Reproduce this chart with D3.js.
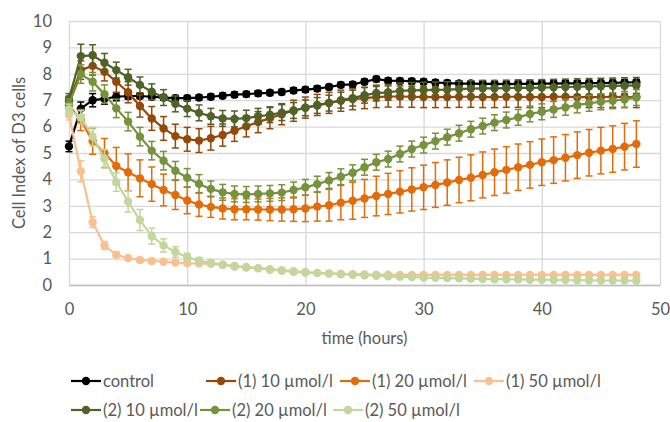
<!DOCTYPE html>
<html>
<head>
<meta charset="utf-8">
<script src="https://cdn.jsdelivr.net/npm/d3@7"></script>
<style>
  html, body { margin: 0; padding: 0; background: #ffffff; }
  svg { display: block; }
  text { font-family: Lato, "Open Sans", "Liberation Sans", sans-serif; fill: #595959; }
</style>
</head>
<body>
<svg id="chart" width="670" height="422"></svg>
<script>
// Time points (hours)
const hours = [0,1,2,3,4,5,6,7,8,9,10,11,12,13,14,15,16,17,18,19,20,21,22,23,24,
               25,26,27,28,29,30,31,32,33,34,35,36,37,38,39,40,41,42,43,44,45,46,47,48];

const xTicks = [0, 10, 20, 30, 40, 50];
const yTicks = [0, 1, 2, 3, 4, 5, 6, 7, 8, 9, 10];

const seriesNames = ["control", "(1) 10 µmol/l", "(1) 20 µmol/l", "(1) 50 µmol/l",
                     "(2) 10 µmol/l", "(2) 20 µmol/l", "(2) 50 µmol/l"];
const seriesColors = ["#000000", "#974806", "#e36c09", "#fac090",
                      "#4f6228", "#76923c", "#c3d69b"];

// Cell index means
const control = [5.25,6.68,7.0,7.05,7.13,7.16,7.16,7.13,7.1,7.08,7.08,7.1,7.13,7.17,7.21,7.23,7.26,7.28,7.31,7.37,7.4,7.44,7.5,7.58,7.6,
                 7.7,7.8,7.74,7.73,7.72,7.7,7.67,7.65,7.63,7.63,7.62,7.62,7.61,7.62,7.62,7.63,7.63,7.64,7.64,7.65,7.65,7.66,7.67,7.68];
const c1_10 = [6.95,8.14,8.3,8.08,7.7,7.3,6.78,6.31,5.93,5.64,5.52,5.47,5.56,5.68,5.84,6.01,6.17,6.32,6.47,6.6,6.72,6.82,6.9,6.98,7.04,
               7.08,7.12,7.14,7.14,7.13,7.12,7.12,7.12,7.13,7.13,7.12,7.12,7.13,7.13,7.12,7.12,7.13,7.13,7.12,7.12,7.12,7.13,7.12,7.12];
const c1_20 = [6.8,6.25,5.45,5.0,4.51,4.27,4.04,3.82,3.6,3.41,3.2,3.05,2.96,2.9,2.87,2.87,2.86,2.86,2.86,2.87,2.9,2.97,3.02,3.12,3.19,
               3.28,3.37,3.45,3.53,3.62,3.7,3.79,3.88,3.98,4.06,4.17,4.27,4.36,4.46,4.55,4.65,4.73,4.82,4.92,5.01,5.09,5.15,5.24,5.34];
const c1_50 = [6.45,4.31,2.38,1.5,1.14,1.02,0.95,0.91,0.88,0.85,0.83,0.82,0.8,0.77,0.72,0.68,0.64,0.6,0.56,0.52,0.49,0.46,0.44,0.42,0.41,
               0.4,0.39,0.39,0.38,0.38,0.38,0.38,0.38,0.38,0.38,0.38,0.38,0.38,0.38,0.38,0.38,0.38,0.38,0.38,0.38,0.38,0.38,0.38,0.38];
const c2_10 = [7.05,8.67,8.7,8.42,8.14,7.87,7.58,7.32,7.1,6.86,6.68,6.52,6.39,6.31,6.29,6.32,6.39,6.45,6.53,6.61,6.71,6.8,6.89,7.0,7.08,
               7.19,7.27,7.3,7.35,7.37,7.38,7.39,7.4,7.42,7.44,7.45,7.45,7.46,7.47,7.47,7.48,7.49,7.5,7.51,7.52,7.53,7.54,7.55,7.56];
const c2_20 = [6.85,7.99,7.7,7.23,6.69,6.19,5.62,5.09,4.71,4.33,4.06,3.83,3.64,3.51,3.45,3.43,3.45,3.47,3.5,3.6,3.7,3.82,3.96,4.1,4.25,
               4.46,4.65,4.77,4.96,5.15,5.3,5.45,5.6,5.75,5.9,6.02,6.15,6.25,6.35,6.48,6.56,6.65,6.73,6.82,6.88,6.94,6.98,7.03,7.1];
const c2_50 = [6.65,6.35,5.62,4.78,3.9,3.16,2.46,1.85,1.5,1.25,1.05,0.92,0.84,0.77,0.7,0.66,0.63,0.58,0.54,0.5,0.47,0.45,0.43,0.41,0.39,
               0.37,0.35,0.33,0.31,0.3,0.28,0.27,0.26,0.25,0.24,0.23,0.22,0.22,0.21,0.2,0.2,0.19,0.19,0.18,0.18,0.17,0.17,0.17,0.16];

// Standard deviations
const controlSd = [0.2,0.25,0.25,0.2,0.15,0.12,0.1,0.1,0.1,0.1,0.1,0.1,0.1,0.1,0.1,0.1,0.1,0.1,0.1,0.1,0.1,0.1,0.1,0.1,0.1,
                   0.1,0.1,0.1,0.1,0.1,0.1,0.1,0.1,0.1,0.1,0.1,0.1,0.1,0.1,0.1,0.1,0.1,0.1,0.1,0.1,0.1,0.1,0.1,0.1];
const c1_10Sd = [0.2,0.35,0.35,0.35,0.4,0.4,0.42,0.45,0.45,0.45,0.45,0.45,0.45,0.42,0.4,0.4,0.4,0.4,0.4,0.4,0.4,0.4,0.4,0.4,0.4,
                 0.4,0.4,0.4,0.4,0.4,0.4,0.4,0.4,0.4,0.4,0.4,0.4,0.4,0.4,0.4,0.4,0.4,0.4,0.4,0.4,0.4,0.4,0.4,0.4];
const c1_20Sd = [0.3,0.4,0.5,0.55,0.7,0.7,0.7,0.65,0.6,0.55,0.5,0.45,0.4,0.4,0.4,0.4,0.4,0.42,0.44,0.46,0.5,0.55,0.6,0.65,0.7,
                 0.72,0.75,0.78,0.8,0.82,0.84,0.85,0.86,0.86,0.87,0.87,0.88,0.88,0.88,0.88,0.88,0.88,0.88,0.88,0.88,0.88,0.88,0.88,0.88];
const c1_50Sd = [0.2,0.4,0.2,0.15,0.1,0.08,0.08,0.08,0.06,0.06,0.06,0.05,0.05,0.05,0.05,0.05,0.05,0.05,0.05,0.05,0.05,0.05,0.05,0.05,0.05,
                 0.05,0.05,0.05,0.05,0.05,0.05,0.05,0.05,0.05,0.05,0.05,0.05,0.05,0.05,0.05,0.05,0.05,0.05,0.05,0.05,0.05,0.05,0.05,0.05];
const c2_10Sd = [0.2,0.45,0.4,0.35,0.3,0.3,0.3,0.3,0.3,0.3,0.3,0.3,0.3,0.3,0.3,0.3,0.3,0.3,0.3,0.3,0.3,0.3,0.3,0.3,0.3,
                 0.3,0.3,0.3,0.3,0.3,0.3,0.3,0.3,0.3,0.3,0.3,0.3,0.3,0.3,0.3,0.3,0.3,0.3,0.3,0.3,0.3,0.3,0.3,0.3];
const c2_20Sd = [0.2,0.35,0.35,0.35,0.35,0.35,0.35,0.35,0.35,0.35,0.35,0.35,0.3,0.3,0.3,0.3,0.3,0.3,0.3,0.3,0.3,0.3,0.3,0.3,0.3,
                 0.3,0.3,0.3,0.3,0.3,0.3,0.3,0.3,0.3,0.3,0.3,0.3,0.3,0.3,0.3,0.3,0.3,0.3,0.3,0.3,0.3,0.3,0.3,0.3];
const c2_50Sd = [0.2,0.25,0.35,0.35,0.35,0.4,0.4,0.3,0.25,0.2,0.15,0.12,0.1,0.08,0.08,0.06,0.06,0.06,0.05,0.05,0.05,0.05,0.05,0.05,0.05,
                 0.05,0.05,0.05,0.05,0.05,0.05,0.05,0.05,0.05,0.05,0.05,0.05,0.05,0.05,0.05,0.05,0.05,0.05,0.05,0.05,0.05,0.05,0.05,0.05];

const seriesValues = [control, c1_10, c1_20, c1_50, c2_10, c2_20, c2_50];
const seriesSd = [controlSd, c1_10Sd, c1_20Sd, c1_50Sd, c2_10Sd, c2_20Sd, c2_50Sd];

// ---- layout ----
const plot = { left: 69, right: 660, top: 21, bottom: 285 };
const gridColor = "#d9d9d9";

const svg = d3.select("#chart");
const x = d3.scaleLinear().domain([0, 50]).range([plot.left, plot.right]);
const y = d3.scaleLinear().domain([0, 10]).range([plot.bottom, plot.top]);

// gridlines
const grid = svg.append("g");
grid.selectAll("line.h").data(yTicks).join("line")
  .attr("x1", plot.left).attr("x2", plot.right)
  .attr("y1", d => y(d) + 0.5).attr("y2", d => y(d) + 0.5)
  .attr("stroke", gridColor).attr("stroke-width", 1.3);
grid.selectAll("line.v").data(xTicks).join("line")
  .attr("y1", plot.top).attr("y2", plot.bottom)
  .attr("x1", d => x(d) + 0.5).attr("x2", d => x(d) + 0.5)
  .attr("stroke", gridColor).attr("stroke-width", 1.3);

// axes (labels only, Excel style)
const yAxis = d3.axisLeft(y).tickValues(yTicks).tickSize(0).tickPadding(17);
svg.append("g").attr("transform", `translate(${plot.left},0)`).call(yAxis)
  .call(g => g.select(".domain").remove())
  .selectAll("text").style("font-size", "16.5px").attr("fill", "#595959")
  .style("font-family", "Lato, 'Open Sans', sans-serif");

const xAxis = d3.axisBottom(x).tickValues(xTicks).tickSize(0).tickPadding(18);
svg.append("g").attr("transform", `translate(0,${plot.bottom})`).call(xAxis)
  .call(g => g.select(".domain").attr("stroke", "#bfbfbf").attr("stroke-width", 1.3))
  .selectAll("text").style("font-size", "16.5px").attr("fill", "#595959")
  .style("font-family", "Lato, 'Open Sans', sans-serif");

// axis titles
svg.append("text")
  .attr("x", (plot.left + plot.right) / 2).attr("y", 344)
  .attr("text-anchor", "middle").style("font-size", "16.5px")
  .text("time (hours)");
svg.append("text")
  .attr("transform", `translate(25,${(plot.top + plot.bottom) / 2}) rotate(-90)`)
  .attr("text-anchor", "middle").style("font-size", "16.5px")
  .text("Cell Index of D3 cells");

// series
const line = d3.line().x((d, i) => x(hours[i])).y(d => y(d));
const capHalf = 3.5;
const markerR = 4.2;

seriesValues.forEach((vals, si) => {
  const color = seriesColors[si];
  const sd = seriesSd[si];
  const g = svg.append("g");

  g.append("path").datum(vals)
    .attr("d", line).attr("fill", "none")
    .attr("stroke", color).attr("stroke-width", 2.2).attr("stroke-linejoin", "round");

  const eb = g.append("g").attr("stroke", color).attr("stroke-width", 1.5);
  vals.forEach((v, i) => {
    const cx = x(hours[i]);
    const y1 = y(v + sd[i]), y2 = y(v - sd[i]);
    eb.append("line").attr("x1", cx).attr("x2", cx).attr("y1", y1).attr("y2", y2);
    eb.append("line").attr("x1", cx - capHalf).attr("x2", cx + capHalf).attr("y1", y1).attr("y2", y1);
    eb.append("line").attr("x1", cx - capHalf).attr("x2", cx + capHalf).attr("y1", y2).attr("y2", y2);
  });

  g.selectAll("circle").data(vals).join("circle")
    .attr("cx", (d, i) => x(hours[i])).attr("cy", d => y(d))
    .attr("r", markerR).attr("fill", color);
});

// legend
const legendPos = [[71, 381], [206, 381], [340, 381], [474, 381],
                   [71, 410], [200, 410], [333, 410]];
const legend = svg.append("g");
seriesNames.forEach((name, si) => {
  const [lx, ly] = legendPos[si];
  const item = legend.append("g").attr("transform", `translate(${lx},${ly})`);
  item.append("line").attr("x1", 0).attr("x2", 30).attr("y1", 0).attr("y2", 0)
    .attr("stroke", seriesColors[si]).attr("stroke-width", 2.2);
  item.append("circle").attr("cx", 15).attr("cy", 0).attr("r", markerR).attr("fill", seriesColors[si]);
  item.append("text").attr("x", 32).attr("y", 6).style("font-size", "16.5px").text(name);
});
</script>
</body>
</html>
